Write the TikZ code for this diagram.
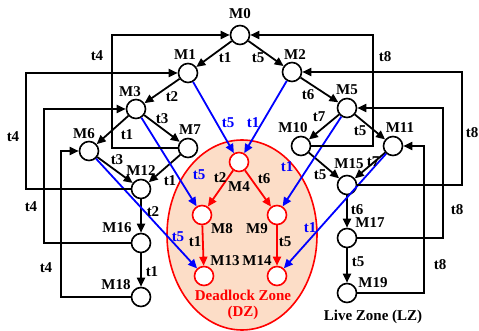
\documentclass[tikz,border=0pt]{standalone}
\usepackage{fontspec}
\setmainfont{Liberation Serif}
\usetikzlibrary{arrows.meta}
\definecolor{dzfill}{RGB}{252,221,199}
\tikzset{
  place/.style={circle,draw,line width=1.6pt,fill=white,minimum size=19pt,inner sep=0pt},
  dzplace/.style={place,draw=red},
  lbl/.style={font=\bfseries\fontsize{15}{16}\selectfont,inner sep=0pt},
  arc/.style={line width=1.8pt,-{Triangle[length=9pt,width=8pt]}},
  blarc/.style={arc,blue},
  rdarc/.style={arc,red},
}
\begin{document}
\begin{tikzpicture}[x=1pt,y=-1pt]
  \useasboundingbox (0,0) rectangle (479,331);
  \draw[red,line width=1.6pt,fill=dzfill] (242,235) ellipse [x radius=75pt,y radius=95pt];
  % markings
  \foreach \n/\x/\y/\lx/\ly in {M0/240/35/240/14, M1/188/73/185/55, M2/292/72/295/55,
      M3/136/109/130/92, M5/347/108/347/90, M6/89/151/84/134, M7/188/148/190/130,
      M10/301/146/293/128, M11/393/146/400/128, M12/141/189/141/171, M15/347/185/349/164,
      M16/141/243/117/228, M17/347/238/370/223, M18/141/297/116/285, M19/347/293/373/283} {
    \node[place] (\n) at (\x,\y) {};
    \node[lbl] (l\n) at (\lx,\ly) {\n};
  }
  \foreach \n/\x/\y/\lx/\ly in {M4/239/162/239/187, M8/202/215/222/229, M9/277/215/257/229,
      M13/204/276/225/261, M14/277/276/257/261} {
    \node[dzplace] (\n) at (\x,\y) {};
    \node[lbl] (l\n) at (\lx,\ly) {\n};
  }
  % firings
  \foreach \a/\b in {M0/M1, M0/M2, M1/M3, M2/M5, M3/M6, M3/M7, M5/M10, M5/M11, M6/M12,
      M7/M12, M10/M15, M11/M15, M12/M16, M16/M18, M15/M17, M17/M19}
    \draw[arc] (\a) -- (\b);
  \foreach \a/\b in {M1/M4, M2/M4, M3/M8, M5/M9, M6/M13, M11/M14}
    \draw[blarc] (\a) -- (\b);
  \foreach \a/\b in {M4/M8, M4/M9, M8/M13, M9/M14}
    \draw[rdarc] (\a) -- (\b);
  \draw[arc] (M7.west) -- (112,148) |- (M0.west);
  \draw[arc] (M12.west) -- (26,189) |- (M1.west);
  \draw[arc] (M16.west) -- (44,243) |- (M3.west);
  \draw[arc] (M18.west) -- (61,297) |- (M6.west);
  \draw[arc] (M10.east) -- (373,146) |- (M0.east);
  \draw[arc] (M15.east) -- (462,185) |- (M2.east);
  \draw[arc] (M17.east) -- (443,238) |- (M5.east);
  \draw[arc] (M19.east) -- (424,293) |- (M11.east);
  % transitions
  \foreach \t/\x/\y [count=\i] in {t1/225/58, t5/258/58, t2/172/97, t6/308/95, t1/127/135,
      t3/162/119, t7/319/117, t5/360/131, t3/117/160, t1/170/181, t5/320/175, t7/373/162,
      t2/153/212, t1/152/272, t6/357/210, t5/358/262, t4/97/56, t4/13/137, t4/31/207,
      t4/46/268, t8/385/57, t8/472/133, t8/457/210, t8/440/265, t2/220/178, t6/264/179,
      t1/195/242, t5/285/242}
    \node[lbl] (tk\i) at (\x,\y) {\t};
  \foreach \t/\x/\y [count=\i] in {t5/228/123, t1/253/123, t5/199/175, t1/287/167,
      t5/178/237, t1/310/228}
    \node[lbl,text=blue] (tb\i) at (\x,\y) {\t};
  \node[lbl,text=red,align=center] (dz) at (243,305) {Deadlock Zone\\(DZ)};
  \node[lbl] (lz) at (373,317) {Live Zone (LZ)};
\end{tikzpicture}
\end{document}
